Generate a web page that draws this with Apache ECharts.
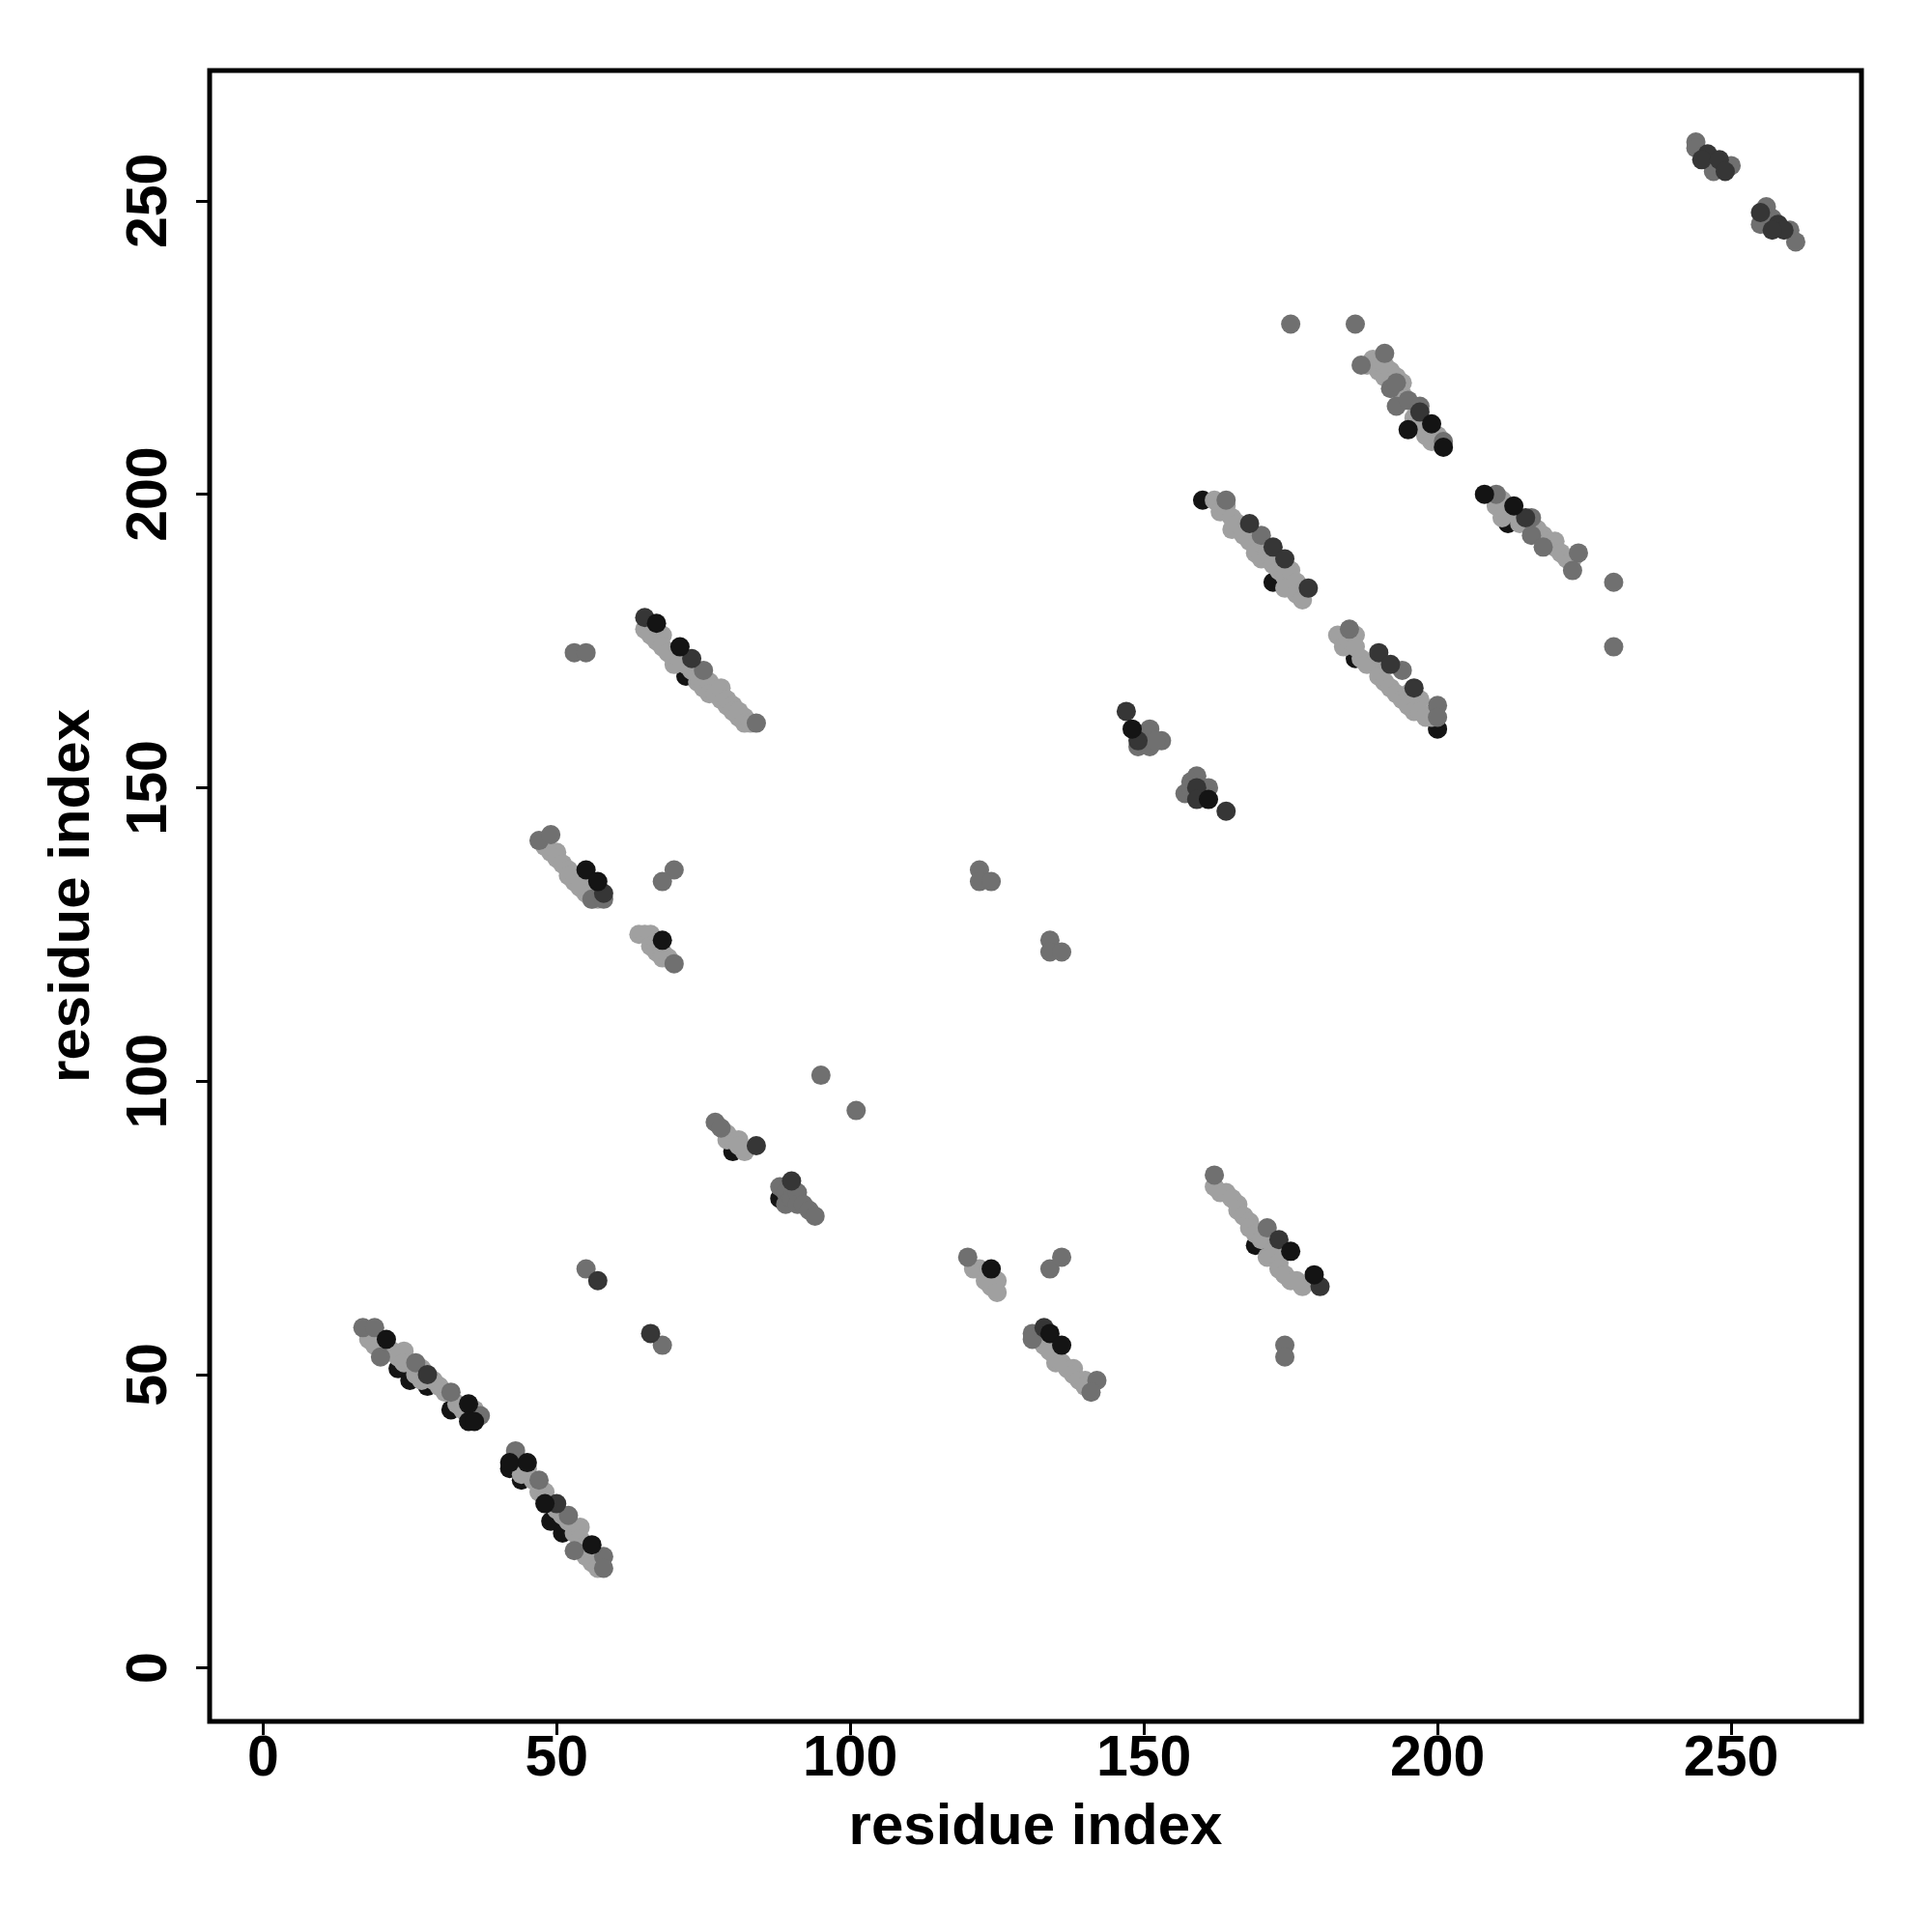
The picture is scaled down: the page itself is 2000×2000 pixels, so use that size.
<!DOCTYPE html>
<html><head><meta charset="utf-8">
<script src="https://cdn.jsdelivr.net/npm/echarts@6/dist/echarts.min.js"></script>
<style>html,body{margin:0;padding:0;background:#fff}#c{width:2000px;height:2000px}</style>
</head><body><div id="c"></div>
<script>
const xTicks=[0,50,100,150,200,250];
const yTicks=[0,50,100,150,200,250];

// black points partly hidden beneath the light-grey ones
const blackUnderPts=[[23,51],[25,49],[28,48],[32,44],[42,34],[44,32],[49,25],[51,23],[72,169],[80,88],[88,80],[160,199],[172,185],[186,172],[200,160],[212,195],[169,72]];

const lightPts=[
[18,56],[19,55],[20,55],[22,54],[23,53],[24,54],[24,52],[25,52],[26,50],[27,49],[27,51],[29,49],[30,48],[31,47],[33,45],[34,44],[35,43],[36,44],
[43,35],[44,33],[45,34],[46,32],[47,30],[48,30],[49,28],[50,27],[51,26],[52,25],[53,23],[54,24],[54,22],[55,21],[55,19],[56,18],[57,19],[57,17],
[65,177],[66,176],[67,175],[68,176],[68,174],[69,173],[70,172],[70,171],[71,172],[72,171],[73,170],[74,168],[75,167],[76,168],[76,166],[77,166],[78,165],[78,167],[79,164],[79,165],[80,164],[80,163],[81,162],[81,163],[82,162],[82,161],[83,161],
[48,140],[49,139],[50,139],[50,138],[51,137],[52,136],[52,135],[53,134],[54,134],[54,133],[55,132],[56,131],[57,131],
[64,125],[65,125],[66,125],[66,123],[67,123],[67,122],[68,122],[68,121],[69,121],
[79,91],[79,90],[80,90],[81,90],[81,89],[82,88],
[121,68],[122,68],[123,67],[123,66],[124,66],[124,65],[125,66],[125,64],
[133,55],[134,55],[134,54],[135,53],[135,52],[136,52],[137,51],[138,51],[138,50],[139,49],[140,49],[140,48],
[162,82],[163,81],[164,81],[165,80],[166,79],[166,78],[167,77],[168,76],[168,75],[169,74],[170,73],[172,71],[171,70],[172,70],[173,69],[173,68],[174,67],[175,66],[176,66],[177,65],
[162,199],[163,197],[164,198],[165,196],[165,194],[166,195],[167,193],[168,192],[169,191],[169,190],[170,189],[171,190],[172,188],[173,187],[174,186],[175,187],[174,184],[175,184],[176,185],[176,183],[177,182],
[183,176],[184,174],[185,175],[186,176],[186,174],[187,172],[188,171],[189,171],[190,169],[191,168],[192,167],[193,166],[194,165],[195,166],[195,164],[196,163],[197,165],[197,163],[198,162],[199,162],
[188,222],[189,223],[190,221],[191,222],[191,220],[192,221],[193,220],[194,219],[194,217],[196,213],[197,212],[198,210],[199,209],[200,210],
[210,198],[211,199],[211,196],[212,197],[214,195],[217,194],[218,193],[219,192],[220,191],[220,192],[221,190],[222,189],[223,189]
];

const midPts=[
[53,173],[55,173],[70,136],[68,134],[95,101],[101,95],[55,68],[68,55],[122,136],[122,134],[124,134],[134,124],[134,122],[136,122],[134,68],[136,70],[174,55],[174,53],[175,229],[186,229],[230,185],[230,174],
[17,58],[19,58],[20,53],[26,52],[32,47],[37,43],
[43,37],[47,32],[52,26],[53,20],[58,19],[58,17],
[75,170],[84,161],
[47,141],[49,142],[56,131],[58,131],
[70,120],
[77,93],[78,92],
[88,82],[89,81],[89,79],[90,80],[91,81],[91,79],[92,79],[93,78],[94,77],
[120,70],
[131,57],[131,56],[142,49],[141,47],
[151,160],[149,157],[151,157],[153,158],[152,158],
[159,152],[158,151],[157,149],[158,150],[161,150],
[162,84],[171,75],
[164,199],[170,193],
[185,177],[194,170],[200,164],[200,162],
[187,222],[191,224],[192,218],[193,219],[193,215],[195,216],[197,215],[201,209],
[210,200],[216,196],[216,193],[218,191],[224,190],[223,187],
[244,260],[244,259],[247,257],[250,256],[247,255],
[256,249],[255,246],[257,247],[260,245],[261,243]
];

const darkPts=[
[57,66],[66,57],[28,50],[50,28],[65,179],[73,172],[58,132],[84,89],[90,83],[133,58],[147,163],[149,158],[159,150],[159,148],[164,146],
[168,195],[172,191],[174,189],[178,184],[173,73],[180,65],[190,173],[192,171],[196,167],[197,214],[215,196],
[246,258],[245,257],[248,257],[249,255],[255,248],[258,246],[259,245],[257,245]
];

const blackPts=[
[21,56],[35,45],[35,42],[36,42],[42,35],[45,35],[48,28],[56,21],[67,178],[71,174],[55,136],[57,134],[68,124],[124,68],[134,57],[136,55],
[148,160],[161,148],[175,71],[179,67],[195,211],[199,212],[201,208],[208,200],[213,198]
];

const chart=echarts.init(document.getElementById('c'),null,{renderer:'canvas'});
const font='"Liberation Sans", Arial, Helvetica, sans-serif';
function sc(name,data,color){
  return {name,type:'scatter',data,symbol:'circle',symbolSize:20,itemStyle:{color,opacity:1},silent:true,animation:false};
}
const axisCommon={
  type:'value',min:-9.1,max:272.2,
  axisLine:{show:true,onZero:false,lineStyle:{color:'#000',width:4}},
  splitLine:{show:false},
  nameLocation:'middle',
  nameTextStyle:{fontSize:60,fontWeight:'bold',fontFamily:font,color:'#000'}
};
chart.setOption({
  animation:false,
  backgroundColor:'#fff',
  grid:{left:217,right:73,top:73,bottom:218,show:true,borderColor:'#000',borderWidth:5,backgroundColor:'transparent'},
  xAxis:Object.assign({},axisCommon,{
    position:'bottom',
    axisTick:{show:true,length:14,inside:false,lineStyle:{color:'#000',width:3},customValues:xTicks},
    axisLabel:{customValues:xTicks,fontSize:59,fontWeight:'bold',fontFamily:font,color:'#000',margin:10},
    name:'residue index',nameGap:80
  }),
  yAxis:Object.assign({},axisCommon,{
    position:'left',
    axisTick:{show:true,length:14,inside:false,lineStyle:{color:'#000',width:3},customValues:yTicks},
    axisLabel:{customValues:yTicks,fontSize:59,fontWeight:'bold',fontFamily:font,color:'#000',margin:32,rotate:90},
    name:'residue index',nameGap:112
  }),
  series:[
    sc('blackUnder',blackUnderPts,'#141414'),
    sc('light',lightPts,'#a0a0a0'),
    sc('mid',midPts,'#707070'),
    sc('dark',darkPts,'#363636'),
    sc('black',blackPts,'#141414')
  ]
});
</script></body></html>
